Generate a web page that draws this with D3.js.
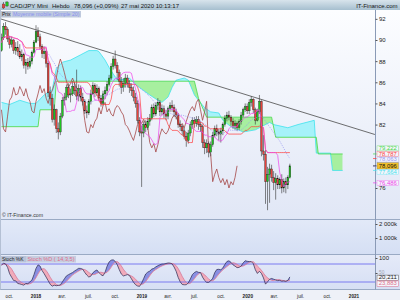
<!DOCTYPE html>
<html>
<head>
<meta charset="utf-8">
<script src="https://cdn.jsdelivr.net/npm/d3@7/dist/d3.min.js"></script>
<style>
  body { margin: 0; background: #fff; }
  svg { display: block; font-family: "Liberation Sans", Arial, sans-serif; }
</style>
</head>
<body>
<script>
// weekly candles, first week starting 2017-09-04
const startWeek = '2017-09-04';
const firstOpen = 89.0;
const closes = [
  90.2, 91.3, 91.0, 90.1, 89.6, 90.0, 89.0, 89.3, 88.9, 88.4,
  88.6, 87.6, 87.9, 87.5, 88.0, 88.8, 89.8, 90.8, 90.3, 89.4,
  88.7, 88.9, 87.8, 85.0, 84.5, 82.5, 83.4, 81.6, 81.3, 82.8,
  84.3, 84.6, 85.5, 84.8, 84.9, 85.6, 85.2, 84.7, 85.4, 84.6,
  84.2, 83.3, 83.1, 84.2, 84.9, 85.7, 85.0, 85.4, 84.5, 84.0,
  84.9, 85.2, 85.8, 86.4, 87.5, 88.2, 87.6, 86.9, 86.1, 85.5,
  85.9, 86.4, 85.9, 85.5, 85.2, 84.6, 84.0, 82.4, 81.3, 81.2,
  82.0, 81.7, 82.3, 82.6, 83.6, 83.0, 83.8, 84.1, 83.2, 83.5,
  83.0, 82.8, 83.5, 83.8, 83.6, 83.2, 82.9, 82.0, 81.8, 81.4,
  80.9, 80.5, 81.2, 82.0, 82.4, 82.1, 82.5, 82.0, 81.8, 80.3,
  79.8, 80.2, 79.4, 80.1, 81.0, 81.6, 81.3, 81.1, 81.4, 82.0,
  82.6, 82.9, 82.7, 82.3, 81.9, 82.1, 81.7, 82.3, 82.9, 83.4,
  83.7, 83.3, 84.1, 84.4, 83.4, 82.4, 83.2, 84.2, 79.5, 79.2,
  76.6, 77.3, 77.8, 77.0, 76.5, 76.9, 76.3, 76.8, 76.0, 76.6,
  76.3, 77.0, 78.096
];
const highs = [
  90.6, 91.6, 91.7, 91.2, 90.4, 90.3, 90.1, 89.8, 89.9, 89.6,
  89.1, 88.8, 88.2, 88.3, 88.4, 89.0, 90.0, 91.4, 91.2, 90.6,
  89.6, 89.4, 89.1, 88.0, 85.6, 84.9, 83.9, 83.5, 82.2, 83.1,
  84.6, 85.0, 85.8, 85.9, 85.4, 86.1, 86.0, 87.2, 85.8, 85.7,
  85.0, 84.4, 83.8, 84.4, 85.3, 86.0, 85.9, 85.8, 85.6, 84.8,
  85.2, 85.6, 86.1, 86.7, 87.8, 88.5, 89.0, 87.9, 87.2, 86.5,
  86.4, 86.8, 86.7, 86.2, 85.9, 85.6, 85.0, 84.3, 82.7, 81.9,
  82.3, 82.4, 82.7, 83.0, 83.9, 84.0, 84.1, 84.5, 84.3, 83.9,
  83.8, 83.4, 83.7, 84.1, 84.3, 83.9, 83.5, 83.1, 82.4, 82.0,
  81.7, 81.3, 81.5, 82.3, 82.7, 82.7, 82.8, 82.8, 82.3, 82.0,
  80.6, 80.6, 80.4, 80.4, 81.3, 81.9, 82.0, 81.6, 81.7, 82.2,
  82.9, 83.2, 83.3, 82.9, 82.6, 82.4, 82.3, 82.5, 83.2, 83.6,
  84.0, 84.0, 84.4, 84.7, 84.5, 83.6, 83.5, 84.8, 84.3, 81.0,
  79.6, 78.0, 78.3, 78.2, 77.6, 77.4, 77.2, 77.0, 77.3, 76.9,
  77.0, 77.2, 78.3
];
const lows = [
  88.9, 90.0, 90.5, 89.8, 89.2, 89.3, 88.7, 88.6, 88.5, 88.2,
  88.0, 87.3, 86.8, 87.2, 87.3, 87.7, 88.7, 89.7, 89.9, 89.1,
  88.3, 88.2, 87.4, 84.6, 83.8, 82.2, 81.9, 81.2, 80.6, 81.0,
  82.6, 83.8, 84.3, 84.5, 84.1, 84.7, 84.8, 84.3, 84.2, 84.2,
  83.8, 83.0, 82.6, 82.9, 83.9, 84.8, 84.6, 84.7, 84.2, 83.7,
  83.8, 84.4, 84.8, 85.6, 86.2, 87.2, 87.3, 86.2, 85.6, 84.9,
  85.1, 85.5, 85.5, 85.0, 84.7, 84.2, 83.6, 82.1, 80.9, 76.1,
  80.8, 81.3, 81.5, 81.9, 82.4, 82.7, 82.8, 83.4, 82.8, 82.9,
  82.6, 82.4, 82.5, 83.2, 83.2, 82.7, 82.5, 81.7, 81.4, 81.0,
  80.6, 79.9, 80.2, 80.9, 81.6, 81.7, 81.8, 81.5, 81.3, 79.8,
  79.2, 79.3, 78.9, 79.0, 79.9, 80.8, 80.9, 80.5, 80.3, 81.0,
  81.8, 82.3, 82.4, 81.9, 81.6, 81.5, 81.4, 81.5, 82.0, 82.7,
  83.2, 83.0, 83.0, 83.7, 83.1, 82.0, 82.3, 83.0, 79.0, 78.6,
  74.5, 73.9, 74.6, 76.6, 75.8, 74.9, 75.9, 75.9, 75.5, 75.6,
  75.5, 75.9, 76.9
];

// Ichimoku cloud: [week index, price]
const senkouA = [
  [0, 84.1], [4, 83.9], [9, 84.3], [14, 84.0], [17, 84.0], [21, 84.8], [25, 85.3],
  [27, 87.3], [30, 87.9], [34, 88.1], [39, 88.6], [43, 89.0], [47, 89.0], [48, 88.9],
  [51, 88.1], [53, 87.4], [56, 86.5], [58, 86.2], [63, 86.4], [65, 86.0], [68, 85.5],
  [73, 84.8], [77, 84.3], [79, 84.1], [82, 84.6], [84, 85.5], [86, 86.2], [90, 86.4],
  [92, 86.2], [95, 84.8], [97, 84.3], [100, 83.6], [103, 83.2], [107, 83.1], [109, 82.4],
  [113, 81.8], [119, 81.3], [125, 81.5], [128, 81.8], [132, 82.2], [134, 82.0], [141, 81.7],
  [146, 82.0], [154, 82.4], [155, 79.3], [162, 79.3], [163, 77.66], [168, 77.66]
];
const senkouB = [
  [0, 81.8], [18, 81.8], [19, 83.4], [26, 83.4], [27, 86.1], [95, 86.1], [97, 84.5],
  [101, 82.7], [133, 82.7], [135, 80.8], [155, 80.8], [156, 79.22], [168, 79.22]
];
const trendLine = [['2017-08-28', 92.03], ['2021-03-14', 81.06]];

const priceTicks = [76, 78, 80, 82, 84, 86, 88, 90, 92];
const volumeTicks = [1000, 2000];
const stochTicks = [50, 100];
const stochLevels = [20, 80];
const xTickDates = ['2017-10-01', '2018-01-01', '2018-04-01', '2018-07-01', '2018-10-01', '2019-01-01',
  '2019-04-01', '2019-07-01', '2019-10-01', '2020-01-01', '2020-04-01', '2020-07-01', '2020-10-01', '2021-01-01'];
const xTickLabels = ['oct.', '2018', 'avr.', 'juil.', 'oct.', '2019', 'avr.', 'juil.', 'oct.', '2020',
  'avr.', 'juil.', 'oct.', '2021'];

const lastKeys = ['senkouB', 'kijun', 'sma', 'price', 'senkouA', 'tenkan'];
const lastValues = [79.222, 78.787, 78.063, 78.096, 77.664, 76.486];
const stochLast = [20.211, 23.883];

const headerTexts = ['CAD/JPY Mini', 'Hebdo', '78,096 (+0,09%)', '27 mai 2020 10:13:17'];

const colors = {
  up: '#1fc41f', down: '#e8413b',
  senkouA: '#3fe2ee', senkouB: '#45d845', cloudUp: '#a6f2fa', cloudDown: '#a7ef9f',
  kijun: '#ff3b3b', tenkan: '#ee40ea', chikou: '#a54646', sma: '#9898f4',
  price: '#222', stochK: '#262650', stochD: '#e06d8a'
};

const parse = d3.timeParse('%Y-%m-%d');
const t0 = parse(startWeek);
const weekDate = i => d3.timeDay.offset(t0, 7 * i);

const svg = d3.select('body').append('svg').attr('width', 400).attr('height', 300);
const defs = svg.append('defs');

function vGrad(id, c0, c1) {
  const g = defs.append('linearGradient').attr('id', id)
    .attr('x1', 0).attr('y1', 0).attr('x2', 0).attr('y2', 1);
  g.append('stop').attr('offset', '0%').attr('stop-color', c0);
  g.append('stop').attr('offset', '100%').attr('stop-color', c1);
}
vGrad('gHead', '#d8e4ec', '#a6bfcf');
vGrad('gMain', '#fcfdff', '#e1e7f6');
vGrad('gVol', '#e2e9f8', '#d5dff4');
vGrad('gStoch', '#e5eaf8', '#d6dff4');

const plotR = 375;
const mainTop = 10, mainBot = 219.5;
const volTop = 220, volBot = 254.5;
const stTop = 255, stBot = 289.5;

// backgrounds
svg.append('rect').attr('x', 0).attr('y', 0).attr('width', 400).attr('height', 10).attr('fill', 'url(#gHead)');
svg.append('rect').attr('x', 0).attr('y', mainTop).attr('width', 400).attr('height', mainBot - mainTop).attr('fill', 'url(#gMain)');
svg.append('rect').attr('x', 0).attr('y', volTop).attr('width', 400).attr('height', volBot - volTop).attr('fill', 'url(#gVol)');
svg.append('rect').attr('x', 0).attr('y', stTop).attr('width', 400).attr('height', stBot - stTop).attr('fill', 'url(#gStoch)');
svg.append('rect').attr('x', 0).attr('y', stBot).attr('width', 400).attr('height', 300 - stBot).attr('fill', '#eef1f8');

const x = d3.scaleTime().domain([new Date(2018, 0, 1), new Date(2021, 0, 1)]).range([36, 354]);
const y = d3.scaleLinear().domain([76, 90]).range([188, 40]);
const yVol = d3.scaleLinear().domain([0, 2000]).range([252, 224]);
const yS = d3.scaleLinear().domain([0, 100]).range([288, 258]);

defs.append('clipPath').attr('id', 'clipMain').append('rect')
  .attr('x', 0).attr('y', mainTop).attr('width', plotR).attr('height', mainBot - mainTop);
defs.append('clipPath').attr('id', 'clipStoch').append('rect')
  .attr('x', 0).attr('y', stTop).attr('width', plotR).attr('height', stBot - stTop);

// indicators from the candles
const opens = closes.map((c, i) => i === 0 ? firstOpen : closes[i - 1]);
function midRange(n, i) {
  const a = Math.max(0, i - n + 1);
  return (d3.max(highs.slice(a, i + 1)) + d3.min(lows.slice(a, i + 1))) / 2;
}
const tenkan = closes.map((c, i) => midRange(9, i));
const kijun = closes.map((c, i) => midRange(26, i));
const sma = closes.map((c, i) => i < 19 ? null : d3.mean(closes.slice(i - 19, i + 1)));
const rawK = closes.map((c, i) => {
  const a = Math.max(0, i - 13);
  const hh = d3.max(highs.slice(a, i + 1)), ll = d3.min(lows.slice(a, i + 1));
  return 100 * (c - ll) / (hh - ll);
});
const stochK = rawK.map((v, i) => d3.mean(rawK.slice(Math.max(0, i - 2), i + 1)));
const stochD = stochK.map((v, i) => d3.mean(stochK.slice(Math.max(0, i - 4), i + 1)));

const main = svg.append('g').attr('clip-path', 'url(#clipMain)');

// cloud
const ptsA = senkouA.map(d => [x(weekDate(d[0])), y(d[1])]);
const ptsB = senkouB.map(d => [x(weekDate(d[0])), y(d[1])]);
const between = (p, q) => d3.line()(p.concat(q.slice().reverse())) + 'Z';
const sideOf = (p, edge) => d3.line()(p.concat([[p[p.length - 1][0], edge], [p[0][0], edge]])) + 'Z';
defs.append('clipPath').attr('id', 'aboveB').append('path').attr('d', sideOf(ptsB, 0));
defs.append('clipPath').attr('id', 'belowB').append('path').attr('d', sideOf(ptsB, 300));
main.append('g').attr('clip-path', 'url(#aboveB)').append('path')
  .attr('d', between(ptsA, ptsB)).attr('fill', colors.cloudUp);
main.append('g').attr('clip-path', 'url(#belowB)').append('path')
  .attr('d', between(ptsA, ptsB)).attr('fill', colors.cloudDown);
main.append('path').attr('d', d3.line()(ptsA)).attr('fill', 'none')
  .attr('stroke', colors.senkouA).attr('stroke-width', 0.8);
main.append('path').attr('d', d3.line()(ptsB)).attr('fill', 'none')
  .attr('stroke', colors.senkouB).attr('stroke-width', 0.8);

// chikou: closes shifted 26 weeks back
const chikouLine = d3.line().x((d, i) => x(weekDate(i))).y(d => y(d));
main.append('path').attr('d', chikouLine(closes.slice(26))).attr('fill', 'none')
  .attr('stroke', colors.chikou).attr('stroke-width', 0.8);

// candles
const candles = main.append('g').selectAll('g').data(closes).join('g')
  .attr('transform', (d, i) => `translate(${x(weekDate(i))},0)`);
candles.append('line')
  .attr('y1', (d, i) => y(Math.max(highs[i], opens[i], d)))
  .attr('y2', (d, i) => y(Math.min(lows[i], opens[i], d)))
  .attr('stroke', '#333').attr('stroke-width', 0.6);
candles.append('rect')
  .attr('x', -0.85).attr('width', 1.7)
  .attr('y', (d, i) => y(Math.max(opens[i], d)))
  .attr('height', (d, i) => Math.max(0.6, Math.abs(y(opens[i]) - y(d))))
  .attr('fill', (d, i) => d >= opens[i] ? colors.up : colors.down)
  .attr('stroke', '#1a1a1a').attr('stroke-width', 0.35);

const priceLine = d3.line().defined(d => d != null).x((d, i) => x(weekDate(i))).y(d => y(d));
main.append('path').attr('d', priceLine(sma)).attr('fill', 'none')
  .attr('stroke', colors.sma).attr('stroke-width', 0.8).attr('stroke-dasharray', '1,1.2');
main.append('path').attr('d', priceLine(kijun)).attr('fill', 'none')
  .attr('stroke', colors.kijun).attr('stroke-width', 0.7);
main.append('path').attr('d', priceLine(tenkan)).attr('fill', 'none')
  .attr('stroke', colors.tenkan).attr('stroke-width', 0.7);

main.append('line')
  .attr('x1', x(parse(trendLine[0][0]))).attr('y1', y(trendLine[0][1]))
  .attr('x2', x(parse(trendLine[1][0]))).attr('y2', y(trendLine[1][1]))
  .attr('stroke', '#4a4a4a').attr('stroke-width', 0.8);

// stochastic panel
const st = svg.append('g').attr('clip-path', 'url(#clipStoch)');
const ptsK = stochK.map((v, i) => [x(weekDate(i)), yS(v)]);
const ptsD = stochD.map((v, i) => [x(weekDate(i)), yS(v)]);
defs.append('clipPath').attr('id', 'aboveD').append('path').attr('d', sideOf(ptsD, 0));
defs.append('clipPath').attr('id', 'belowD').append('path').attr('d', sideOf(ptsD, 300));
st.append('g').attr('clip-path', 'url(#aboveD)').append('path')
  .attr('d', between(ptsK, ptsD)).attr('fill', '#8a8fe2');
st.append('g').attr('clip-path', 'url(#belowD)').append('path')
  .attr('d', between(ptsK, ptsD)).attr('fill', '#f1abba');
st.selectAll('.lvl').data(stochLevels).join('line')
  .attr('x1', 0).attr('x2', plotR).attr('y1', d => yS(d)).attr('y2', d => yS(d))
  .attr('stroke', '#7a7af0').attr('stroke-width', 1);
st.append('path').attr('d', d3.line()(ptsD)).attr('fill', 'none')
  .attr('stroke', colors.stochD).attr('stroke-width', 0.7);
st.append('path').attr('d', d3.line()(ptsK)).attr('fill', 'none')
  .attr('stroke', colors.stochK).attr('stroke-width', 0.7);

// frames
[mainBot, volBot, stBot].forEach(v => {
  svg.append('line').attr('x1', 0).attr('x2', 400).attr('y1', v).attr('y2', v)
    .attr('stroke', '#9aaac4').attr('stroke-width', 1);
});
svg.append('line').attr('x1', 0.5).attr('x2', 0.5).attr('y1', mainTop).attr('y2', stBot)
  .attr('stroke', '#b4c0d4');
svg.append('line').attr('x1', plotR + 0.5).attr('x2', plotR + 0.5).attr('y1', mainTop).attr('y2', stBot)
  .attr('stroke', '#8a9ab6');

// last value boxes, stacked around the price box
const smallH = 5.6;
const boxes = lastKeys.map((k, i) => ({ k, v: lastValues[i], y: y(lastValues[i]), h: k === 'price' ? 7 : smallH }));
const pb = boxes.find(b => b.k === 'price');
pb.cy = pb.y;
const ups = boxes.filter(b => b !== pb && b.y < pb.y + 3).sort((a, b) => b.y - a.y);
const downs = boxes.filter(b => b !== pb && b.y >= pb.y + 3).sort((a, b) => a.y - b.y);
let prev = pb;
ups.forEach(b => { b.cy = Math.min(b.y, prev.cy - (prev.h + b.h) / 2); prev = b; });
prev = pb;
downs.forEach(b => { b.cy = Math.max(b.y, prev.cy + (prev.h + b.h) / 2); prev = b; });

// right axes (tick labels hidden where a value box covers them)
const covered = v => boxes.some(b => Math.abs(y(v) - b.cy) < b.h / 2 + 1.5);
function rightAxis(scale, ticks, fmt) {
  const g = svg.append('g').attr('transform', `translate(${plotR + 0.5},0)`)
    .call(d3.axisRight(scale).tickValues(ticks).tickSize(2).tickPadding(1.5).tickFormat(fmt));
  g.select('.domain').remove();
  g.selectAll('line').attr('stroke', '#555');
  g.selectAll('text').attr('font-size', 6).attr('fill', '#222');
  return g;
}
rightAxis(y, priceTicks.filter(v => !covered(v)), d => d);
rightAxis(yVol, volumeTicks, d => d3.format(',')(d).replace(',', ' ') + 'k');
rightAxis(yS, stochTicks, d => d).selectAll('text')
  .filter(d => d === 50)
  .attr('opacity', 0.35).attr('font-size', 4.8).attr('transform', 'translate(0,-1.2)');

// x axis labels
const xg = svg.append('g');
xg.selectAll('text').data(xTickDates).join('text')
  .attr('x', d => x(parse(d))).attr('y', 297.5)
  .attr('text-anchor', 'middle').attr('font-size', 6)
  .attr('font-weight', (d, i) => /^\d/.test(xTickLabels[i]) ? 'bold' : 'normal')
  .attr('fill', '#222')
  .text((d, i) => xTickLabels[i])
  .each(function () {
    const w = this.getComputedTextLength();
    d3.select(this).attr('textLength', w * 0.78).attr('lengthAdjust', 'spacingAndGlyphs');
  });

const fmtFr = d3.format('.3f');
const lb = svg.append('g').selectAll('g').data(boxes).join('g');
lb.append('line').attr('x1', plotR - 2).attr('x2', plotR + 1.5).attr('y1', d => d.y).attr('y2', d => d.y)
  .attr('stroke', d => d.k === 'price' ? '#222' : colors[d.k]).attr('stroke-width', 0.7);
lb.append('rect').attr('x', 377).attr('width', 21.5)
  .attr('y', d => d.cy - d.h / 2 + 0.3).attr('height', d => d.h - 0.6)
  .attr('fill', d => d.k === 'price' ? '#f0bf2c' : '#f3f5fb')
  .attr('stroke', d => d.k === 'price' ? '#666' : colors[d.k]).attr('stroke-opacity', 0.6)
  .attr('stroke-width', 0.5);
lb.append('text').attr('x', 387.75).attr('y', d => d.cy + (d.k === 'price' ? 2 : 1.7))
  .attr('text-anchor', 'middle').attr('font-size', d => d.k === 'price' ? 5.6 : 4.8)
  .attr('fill', d => d.k === 'price' ? '#111' : colors[d.k])
  .text(d => fmtFr(d.v).replace('.', ','))
  .attr('textLength', 18).attr('lengthAdjust', 'spacingAndGlyphs');

const stBoxes = stochLast.map((v, i) => ({ v, i }));
const stMid = d3.mean(stochLast, v => yS(v)) - 0.6;
const sb = svg.append('g').selectAll('g').data(stBoxes).join('g');
sb.append('rect').attr('x', 377).attr('width', 21.5)
  .attr('y', d => stMid + (d.i === 0 ? -5.7 : 0.1)).attr('height', 5.4)
  .attr('fill', '#f4f6fb').attr('stroke', d => d.i === 0 ? '#555' : colors.stochD)
  .attr('stroke-width', 0.5);
sb.append('text').attr('x', 387.75).attr('y', d => stMid + (d.i === 0 ? -1.3 : 4.5))
  .attr('text-anchor', 'middle').attr('font-size', 4.8)
  .attr('fill', d => d.i === 0 ? '#222' : colors.stochD)
  .text(d => fmtFr(d.v).replace('.', ','))
  .attr('textLength', 18).attr('lengthAdjust', 'spacingAndGlyphs');

// header
const head = svg.append('g');
head.append('line').attr('x1', 3.5).attr('x2', 3.5).attr('y1', 2).attr('y2', 9).attr('stroke', '#444').attr('stroke-width', 0.6);
head.append('rect').attr('x', 2.2).attr('y', 4).attr('width', 2.6).attr('height', 4).attr('fill', colors.down).attr('stroke', '#333').attr('stroke-width', 0.3);
head.append('line').attr('x1', 7).attr('x2', 7).attr('y1', 1).attr('y2', 7).attr('stroke', '#444').attr('stroke-width', 0.6);
head.append('rect').attr('x', 5.7).attr('y', 2).attr('width', 2.6).attr('height', 4).attr('fill', colors.up).attr('stroke', '#333').attr('stroke-width', 0.3);
const headX = [10, 52, 74, 121];
headerTexts.forEach((t, i) => {
  head.append('text').attr('x', headX[i]).attr('y', 7.8).attr('font-size', 6).attr('fill', '#151515')
    .text(t);
});
head.append('text').attr('x', 397.5).attr('y', 7.8).attr('font-size', 6).attr('fill', '#151515')
  .attr('text-anchor', 'end').text('IT-Finance.com');

// legends
const leg = svg.append('g');
leg.append('rect').attr('x', 0.5).attr('y', 11).attr('width', 11).attr('height', 6.5).attr('fill', '#b8c1d0');
leg.append('text').attr('x', 2).attr('y', 16.4).attr('font-size', 5.6).attr('fill', '#222').text('Prix')
  .attr('textLength', 8.5).attr('lengthAdjust', 'spacingAndGlyphs');
leg.append('rect').attr('x', 11.5).attr('y', 11).attr('width', 69.5).attr('height', 6.5).attr('fill', '#bfcade');
leg.append('text').attr('x', 13).attr('y', 16.4).attr('font-size', 5.6).attr('fill', '#8a90f0')
  .text('Moyenne mobile (Simple 20)').attr('textLength', 66.5).attr('lengthAdjust', 'spacingAndGlyphs');

leg.append('text').attr('x', 2).attr('y', 217.3).attr('font-size', 5.6).attr('fill', '#333')
  .text('© IT-Finance.com').attr('textLength', 41).attr('lengthAdjust', 'spacingAndGlyphs');

leg.append('rect').attr('x', 0.5).attr('y', 256).attr('width', 25.5).attr('height', 6.5).attr('fill', '#b8c3d8');
leg.append('text').attr('x', 2).attr('y', 261.4).attr('font-size', 5.6).attr('fill', '#222')
  .text('Stoch %K').attr('textLength', 21.5).attr('lengthAdjust', 'spacingAndGlyphs');
leg.append('rect').attr('x', 26).attr('y', 256).attr('width', 50).attr('height', 6.5).attr('fill', '#c6cee0');
leg.append('text').attr('x', 27.5).attr('y', 261.4).attr('font-size', 5.6).attr('fill', colors.stochD)
  .text('Stoch %D ( 14,3,5)').attr('textLength', 47).attr('lengthAdjust', 'spacingAndGlyphs');
</script>
</body>
</html>
